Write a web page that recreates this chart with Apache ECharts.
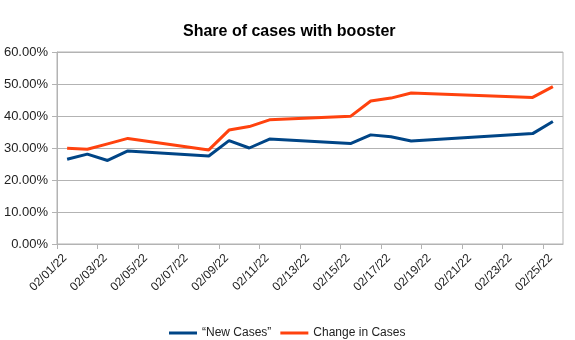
<!DOCTYPE html>
<html>
<head>
<meta charset="utf-8">
<script src="https://cdn.jsdelivr.net/npm/echarts@6/dist/echarts.min.js"></script>
<style>
html,body{margin:0;padding:0;background:#fff;}
#chart{width:575px;height:340px;}
</style>
</head>
<body>
<div id="chart"></div>
<script>
// Data (percent values)
const dates = ['2022-02-01','2022-02-02','2022-02-03','2022-02-04','2022-02-08','2022-02-09','2022-02-10','2022-02-11','2022-02-15','2022-02-16','2022-02-17','2022-02-18','2022-02-24','2022-02-25'];
const newCases = [26.5, 28.1, 26.1, 29.1, 27.5, 32.3, 30.0, 32.8, 31.4, 34.1, 33.5, 32.2, 34.5, 38.3];
const changeInCases = [29.9, 29.6, 31.3, 33.0, 29.4, 35.6, 36.7, 38.8, 39.9, 44.7, 45.6, 47.2, 45.8, 49.2];
const xTickLabels = ['02/01/22','02/03/22','02/05/22','02/07/22','02/09/22','02/11/22','02/13/22','02/15/22','02/17/22','02/19/22','02/21/22','02/23/22','02/25/22'];
const seriesNames = ['\u201cNew Cases\u201d', 'Change in Cases'];
const titleText = 'Share of cases with booster';

// Day axis: day 0 = start of 02/01/22; points sit in the middle of their day (date-axis style)
const start = Date.UTC(2022, 1, 1);
const dayPos = d => (Date.parse(d + 'T00:00:00Z') - start) / 86400000 + 0.5;
const tickVals = xTickLabels.map((_, i) => i * 2);

const font = 'Liberation Sans, Arial, sans-serif';
const chart = echarts.init(document.getElementById('chart'), null, {renderer: 'canvas'});
chart.setOption({
  animation: false,
  textStyle: {fontFamily: font},
  title: {
    text: titleText, left: 178, top: 19,
    textStyle: {fontFamily: font, fontSize: 16, fontWeight: 'bold', color: '#000'}
  },
  grid: {left: 57, right: 12, top: 52, bottom: 96, show: true, borderColor: '#b3b3b3', borderWidth: 1},
  legend: {
    top: 322, left: 164, icon: 'rect', itemWidth: 28, itemHeight: 3, itemGap: 9,
    textStyle: {fontFamily: font, fontSize: 12, color: '#222'},
    data: seriesNames
  },
  xAxis: {
    type: 'value', min: 0, max: 25,
    axisLine: {show: true, lineStyle: {color: '#b3b3b3'}},
    axisTick: {show: true, length: 5, lineStyle: {color: '#b3b3b3'}, customValues: tickVals},
    splitLine: {show: false},
    axisLabel: {
      customValues: tickVals, rotate: 45, margin: 20, padding: [0, -11, 0, 0],
      fontFamily: font, fontSize: 12, color: '#222',
      formatter: v => xTickLabels[Math.round(v / 2)] || ''
    }
  },
  yAxis: {
    type: 'value', min: 0, max: 60, interval: 10,
    axisLine: {show: true, lineStyle: {color: '#b3b3b3'}},
    axisTick: {show: true, length: 5, lineStyle: {color: '#b3b3b3'}},
    splitLine: {show: true, lineStyle: {color: '#b3b3b3', width: 1}},
    axisLabel: {margin: 9, fontFamily: font, fontSize: 13, color: '#222', formatter: v => v.toFixed(2) + '%'}
  },
  series: [
    {
      name: seriesNames[0], type: 'line', symbol: 'none', color: '#004586',
      lineStyle: {width: 3, color: '#004586'},
      data: dates.map((d, i) => [dayPos(d), newCases[i]])
    },
    {
      name: seriesNames[1], type: 'line', symbol: 'none', color: '#ff420e',
      lineStyle: {width: 3, color: '#ff420e'},
      data: dates.map((d, i) => [dayPos(d), changeInCases[i]])
    }
  ]
});
</script>
</body>
</html>
